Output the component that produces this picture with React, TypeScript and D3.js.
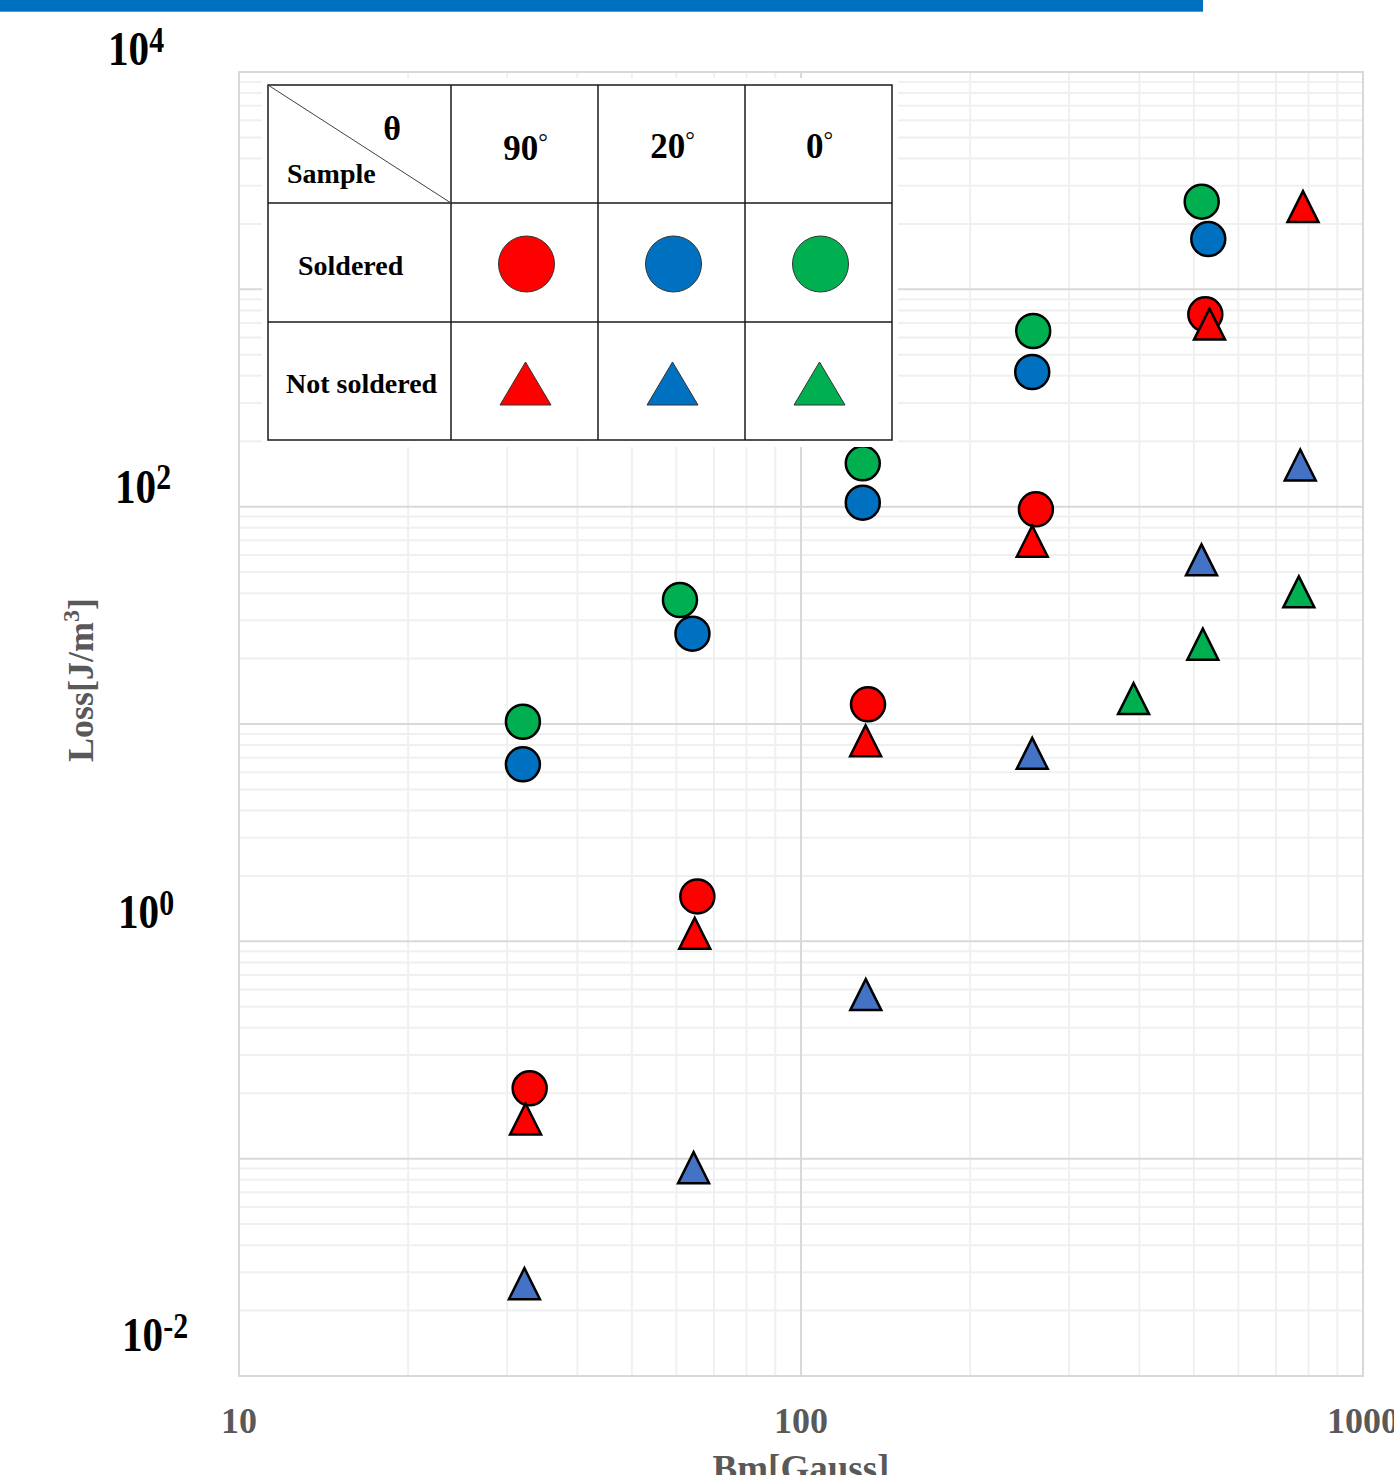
import React from 'react';
import * as d3 from 'd3';

// ---------- data ----------
const redCircleX = [32.9, 65.4, 131.6, 261.8, 524.1];
const redCircleY = [0.2108, 1.609, 12.32, 97.2, 767.6];
const blueCircleX = [32.0, 64.1, 128.8, 257.9, 530.5];
const blueCircleY = [6.52, 26.03, 104.3, 416.5, 1704];
const greenCircleX = [32.0, 60.9, 128.8, 258.9, 516.4];
const greenCircleY = [10.24, 37.2, 158.3, 643.1, 2531];
const redTriX = [32.35, 64.7, 130.3, 257.9, 533.2, 782];
const redTriY = [0.1535, 1.098, 8.44, 69.95, 697.8, 2423];
const blueTriX = [32.2, 64.4, 130.4, 257.9, 516, 773.3];
const blueTriY = [0.02683, 0.0917, 0.5735, 7.39, 57.4, 156.8];
const greenTriX = [390.6, 518.8, 768.8];
const greenTriY = [13.2, 23.5, 40.9];

const xTicks = [10, 100, 1000];
const xTickLabels = ['10', '100', '1000'];
const yTickExps = [4, 2, 0, -2];
const yTickSup = ['4', '2', '0', '-2'];
const angleLabels = ['90', '20', '0'];
const sampleLabels = ['Soldered', 'Not soldered'];

// ---------- layout ----------
const W = 1394, H = 1475;
const PL = 239, PR = 1363, PT = 72, PB = 1376;
const yLabelX = [108, 115, 118, 122];
const yLabelDy = [-7, -4, -13, -25];
const FONT = '"Liberation Serif", "Times New Roman", serif';

const COLORS = {
  red: '#FF0000',
  blue: '#0070C0',
  green: '#00B050',
  blueTri: '#4472C4',
};

const triPath = (cx: number, cy: number, h: number, w: number) =>
  `M${cx},${cy - h}L${cx + w},${cy + h}L${cx - w},${cy + h}Z`;

export default function App() {
  const x = d3.scaleLog().domain([10, 1000]).range([PL, PR]);
  const y = d3.scaleLog().domain([0.01, 10000]).range([PB, PT]);

  const xMinor: number[] = [];
  [10, 100].forEach((d) => {
    for (let k = 2; k <= 9; k++) xMinor.push(k * d);
  });
  const yMinor: number[] = [];
  for (let e = -2; e < 4; e++) {
    for (let k = 2; k <= 9; k++) yMinor.push(k * Math.pow(10, e));
  }
  const yMajor = [0.1, 1, 10, 100, 1000];

  const circleSeries = [
    { xs: greenCircleX, ys: greenCircleY, c: COLORS.green },
    { xs: blueCircleX, ys: blueCircleY, c: COLORS.blue },
    { xs: redCircleX, ys: redCircleY, c: COLORS.red },
  ];
  const triSeries = [
    { xs: greenTriX, ys: greenTriY, c: COLORS.green },
    { xs: blueTriX, ys: blueTriY, c: COLORS.blueTri },
    { xs: redTriX, ys: redTriY, c: COLORS.red },
  ];

  // table geometry
  const colB = [268, 451, 598, 745, 892];
  const rowB = [85, 203, 322, 440];
  const legendCircleColors = [COLORS.red, COLORS.blue, COLORS.green];
  const legendTriColors = [COLORS.red, COLORS.blue, COLORS.green];

  return (
    <svg
      width={W}
      height={H}
      style={{ position: 'absolute', left: 0, top: 0, background: '#fff' }}
      fontFamily={FONT}
    >
      <rect x={0} y={0} width={W} height={H} fill="#fff" />
      <rect x={0} y={0} width={1203} height={11.7} fill="#0070C0" />

      {/* grid */}
      <g>
        {yMinor.map((v, i) => (
          <line key={'ym' + i} x1={PL} x2={PR} y1={y(v)} y2={y(v)} stroke="#f0f0f0" strokeWidth={2} />
        ))}
        {xMinor.map((v, i) => (
          <line key={'xm' + i} x1={x(v)} x2={x(v)} y1={PT} y2={PB} stroke="#f0f0f0" strokeWidth={2} />
        ))}
        {yMajor.map((v, i) => (
          <line key={'yM' + i} x1={PL} x2={PR} y1={y(v)} y2={y(v)} stroke="#d9d9d9" strokeWidth={2} />
        ))}
        <line x1={x(100)} x2={x(100)} y1={PT} y2={PB} stroke="#d9d9d9" strokeWidth={2} />
        <rect x={PL} y={PT} width={PR - PL} height={PB - PT} fill="none" stroke="#d9d9d9" strokeWidth={2} />
      </g>

      {/* x tick labels */}
      {xTicks.map((v, i) => (
        <text key={'xt' + i} x={x(v)} y={1433} textAnchor="middle" fontSize={36} fontWeight="bold" fill="#595959">
          {xTickLabels[i]}
        </text>
      ))}

      {/* y tick labels */}
      {yTickExps.map((e, i) => (
        <g key={'yt' + i} transform={`translate(${yLabelX[i]},${y(Math.pow(10, e)) + yLabelDy[i]}) scale(1.03,1.22)`}>
          <text x={0} y={0} fontSize={40} fontWeight="bold" fill="#000">
            10
            <tspan fontSize={29} dy={-11}>{yTickSup[i]}</tspan>
          </text>
        </g>
      ))}

      {/* axis titles */}
      <text x={801} y={1481} textAnchor="middle" fontSize={37} fontWeight="bold" fill="#595959">
        Bm[Gauss]
      </text>
      <text
        transform="translate(93,680) rotate(-90)"
        textAnchor="middle"
        fontSize={36}
        fontWeight="bold"
        fill="#595959"
      >
        Loss[J/m<tspan fontSize={24} dy={-14}>3</tspan>
        <tspan dy={14}>]</tspan>
      </text>

      {/* data markers */}
      {circleSeries.map((s, si) =>
        s.xs.map((xv, i) => (
          <circle key={`c${si}-${i}`} cx={x(xv)} cy={y(s.ys[i])} r={17} fill={s.c} stroke="#000" strokeWidth={2.5} />
        ))
      )}
      {triSeries.map((s, si) =>
        s.xs.map((xv, i) => (
          <path
            key={`t${si}-${i}`}
            d={triPath(x(xv), y(s.ys[i]) + 0.8, 15.5, 15.5)}
            fill={s.c}
            stroke="#000"
            strokeWidth={2.5}
            strokeLinejoin="miter"
          />
        ))
      )}

      {/* legend table */}
      <rect x={262} y={78} width={636} height={369} fill="#fff" />
      <g stroke="#1a1a1a" strokeWidth={1.5}>
        <rect x={colB[0]} y={rowB[0]} width={colB[4] - colB[0]} height={rowB[3] - rowB[0]} fill="none" />
        {colB.slice(1, 4).map((cx, i) => (
          <line key={'tc' + i} x1={cx} x2={cx} y1={rowB[0]} y2={rowB[3]} />
        ))}
        {rowB.slice(1, 3).map((ry, i) => (
          <line key={'tr' + i} x1={colB[0]} x2={colB[4]} y1={ry} y2={ry} />
        ))}
      </g>
      <line x1={colB[0]} y1={rowB[0]} x2={colB[1]} y2={rowB[1]} stroke="#404040" strokeWidth={1} />
      <text x={392} y={140} textAnchor="middle" fontSize={34} fontWeight="bold">θ</text>
      <text x={287} y={183} fontSize={28} fontWeight="bold">Sample</text>
      {angleLabels.map((t, i) => (
        <text
          key={'al' + i}
          x={(colB[i + 1] + colB[i + 2]) / 2 + 1}
          y={i === 0 ? 160 : 158}
          textAnchor="middle"
          fontSize={35}
          fontWeight="bold"
        >
          {t}
          <tspan fontSize={24} dy={-10} fontWeight="normal">°</tspan>
        </text>
      ))}
      <text x={298} y={275} fontSize={28} fontWeight="bold">{sampleLabels[0]}</text>
      <text x={286} y={393} fontSize={28} fontWeight="bold">{sampleLabels[1]}</text>
      {legendCircleColors.map((c, i) => (
        <circle
          key={'lc' + i}
          cx={(colB[i + 1] + colB[i + 2]) / 2 + 2}
          cy={264}
          r={28}
          fill={c}
          stroke="#333"
          strokeWidth={1}
        />
      ))}
      {legendTriColors.map((c, i) => (
        <path
          key={'lt' + i}
          d={triPath((colB[i + 1] + colB[i + 2]) / 2 + 1, 383.5, 21.5, 25.5)}
          fill={c}
          stroke="#333"
          strokeWidth={1}
        />
      ))}
    </svg>
  );
}
